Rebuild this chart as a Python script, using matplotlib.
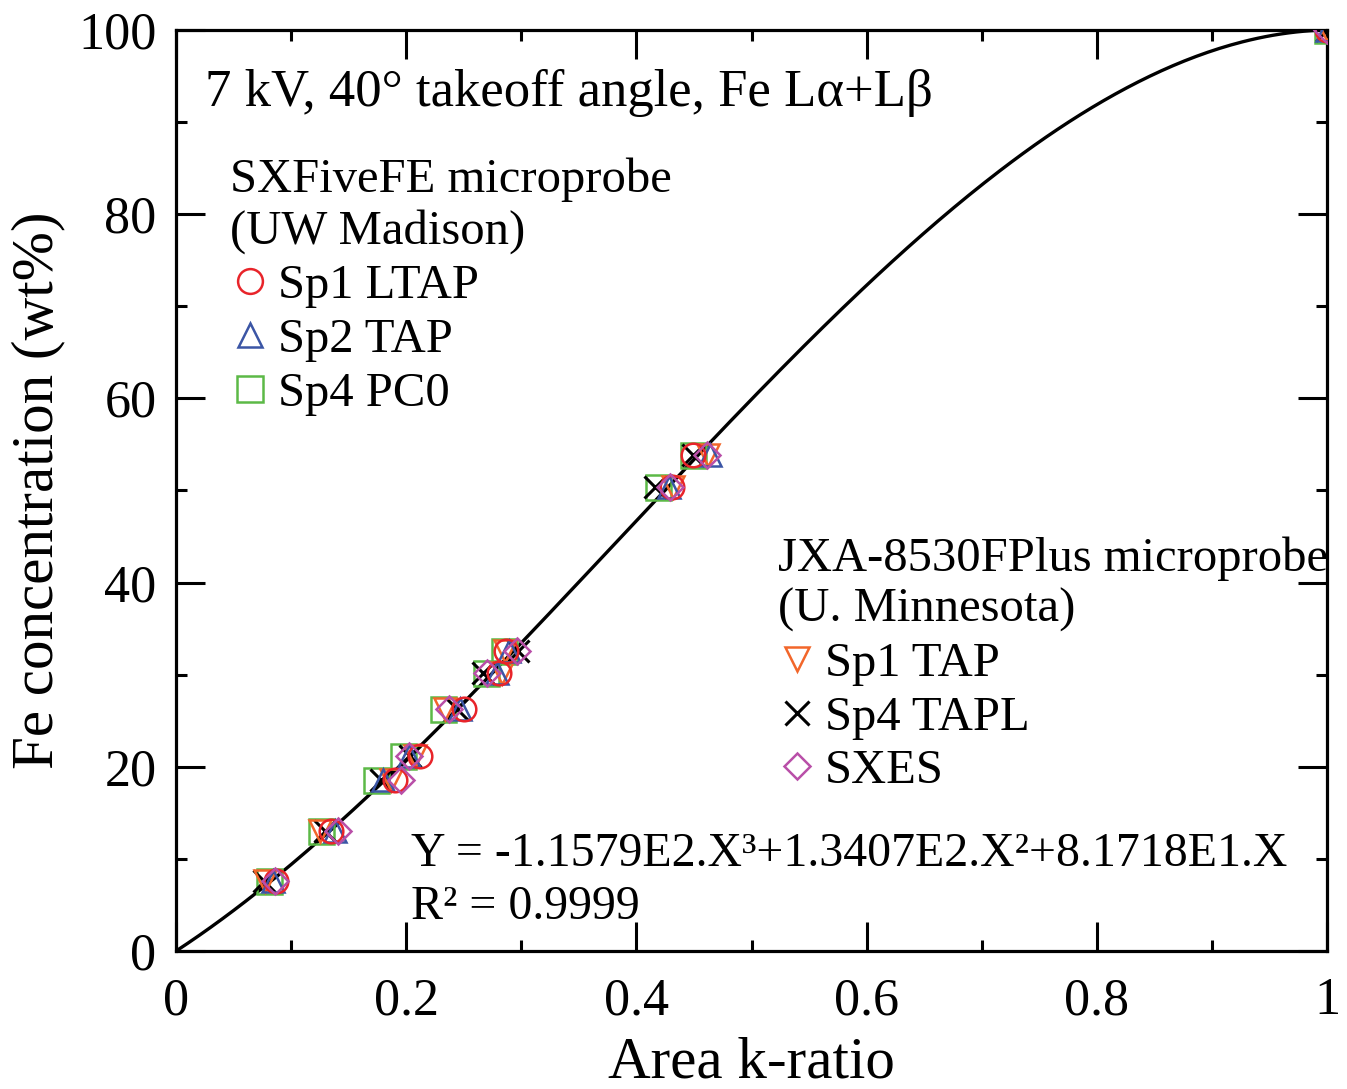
import numpy as np
import matplotlib.pyplot as plt
from matplotlib.ticker import MultipleLocator, FuncFormatter

plt.rcParams['font.family'] = ['Liberation Serif', 'DejaVu Serif']

# Fe concentration of the standards (wt%)
conc = [7.6, 13.0, 18.6, 21.2, 26.3, 30.2, 32.6, 50.4, 53.9, 100.0]

# area k-ratios, SXFiveFE (UW Madison)
sp1_ltap = [0.087, 0.135, 0.190, 0.212, 0.250, 0.281, 0.287, 0.431, 0.449, 1.0]
sp2_tap = [0.084, 0.138, 0.180, 0.202, 0.247, 0.279, 0.289, 0.428, 0.464, 1.0]
sp4_pc0 = [0.081, 0.126, 0.174, 0.197, 0.232, 0.269, 0.285, 0.419, 0.449, 1.0]

# area k-ratios, JXA-8530FPlus (U. Minnesota)
jxa_sp1_tap = [0.077, 0.125, 0.187, 0.208, 0.234, 0.283, 0.286, 0.432, 0.462, 1.0]
jxa_sp4_tapl = [0.076, 0.129, 0.178, 0.203, 0.244, 0.267, 0.297, 0.416, 0.449, 1.0]
sxes = [0.086, 0.141, 0.195, 0.202, 0.237, 0.270, 0.296, 0.429, 0.461, 1.0]

# fitted polynomial shown on the chart: a3*X^3 + a2*X^2 + a1*X
fit_coef = [-115.79, 134.07, 81.718]

fig = plt.figure(figsize=(13.47, 10.89), dpi=100)
ax = fig.add_axes([0.1307, 0.1267, 0.8545, 0.8458])

xf = np.linspace(0, 1, 300)
yf = fit_coef[0] * xf**3 + fit_coef[1] * xf**2 + fit_coef[2] * xf
ax.plot(xf, yf, color='black', lw=2.4, zorder=2)

mew = 1.8
h_sq, = ax.plot(sp4_pc0, conc, 's', ms=18, mfc='none', mec='#5cb947', mew=mew, ls='none', zorder=3, label='Sp4 PC0')
h_x, = ax.plot(jxa_sp4_tapl, conc, 'x', ms=16, color='black', mew=2.2, ls='none', zorder=3, label='Sp4 TAPL')
h_dn, = ax.plot(jxa_sp1_tap, conc, 'v', ms=16, mfc='none', mec='#f2662a', mew=mew, ls='none', zorder=3, label='Sp1 TAP')
h_up, = ax.plot(sp2_tap, conc, '^', ms=16, mfc='none', mec='#3b55a5', mew=mew, ls='none', zorder=3, label='Sp2 TAP')
h_o, = ax.plot(sp1_ltap, conc, 'o', ms=17, mfc='none', mec='#e8242a', mew=mew, ls='none', zorder=3, label='Sp1 LTAP')
h_d, = ax.plot(sxes, conc, 'D', ms=13, mfc='none', mec='#b94fa8', mew=mew, ls='none', zorder=3, label='SXES')

ax.set_xlim(0, 1)
ax.set_ylim(0, 100)
ax.xaxis.set_major_locator(MultipleLocator(0.2))
ax.xaxis.set_minor_locator(MultipleLocator(0.1))
ax.yaxis.set_major_locator(MultipleLocator(20))
ax.yaxis.set_minor_locator(MultipleLocator(10))
ax.xaxis.set_major_formatter(FuncFormatter(lambda v, p: '%g' % v))
ax.tick_params(which='both', direction='in', top=True, right=True, width=2.2, labelsize=37.5)
ax.tick_params(which='major', length=21)
ax.tick_params(which='minor', length=8)
ax.tick_params(axis='x', which='major', pad=19)
ax.tick_params(axis='y', which='major', pad=14)
for s in ax.spines.values():
    s.set_linewidth(2.3)

ax.set_xlabel('Area k-ratio', fontsize=42.5, labelpad=8)
ax.set_ylabel('Fe concentration (wt%)', fontsize=42.5, labelpad=9)

ax.text(0.025, 0.932, '7 kV, 40° takeoff angle, Fe Lα+Lβ', transform=ax.transAxes, fontsize=38, va='center')

leg_kw = dict(loc='upper left', frameon=False, fontsize=35, title_fontsize=35, alignment='left',
              handlelength=0.8, handletextpad=0.18, labelspacing=0.2, borderpad=0,
              borderaxespad=0, markerscale=1.05)
leg1 = ax.legend(handles=[h_o, h_up, h_sq], title='SXFiveFE microprobe\n(UW Madison)',
                 bbox_to_anchor=(0.047, 0.861), **leg_kw)
ax.add_artist(leg1)
ax.legend(handles=[h_dn, h_x, h_d], title='JXA-8530FPlus microprobe\n(U. Minnesota)',
          bbox_to_anchor=(0.5226, 0.45), **leg_kw)

ax.text(0.204, 0.105, 'Y = -1.1579E2.X³+1.3407E2.X²+8.1718E1.X', transform=ax.transAxes, fontsize=34.5, va='center')
ax.text(0.204, 0.048, 'R² = 0.9999', transform=ax.transAxes, fontsize=34.5, va='center')

fig.savefig('out.png', dpi=100)
